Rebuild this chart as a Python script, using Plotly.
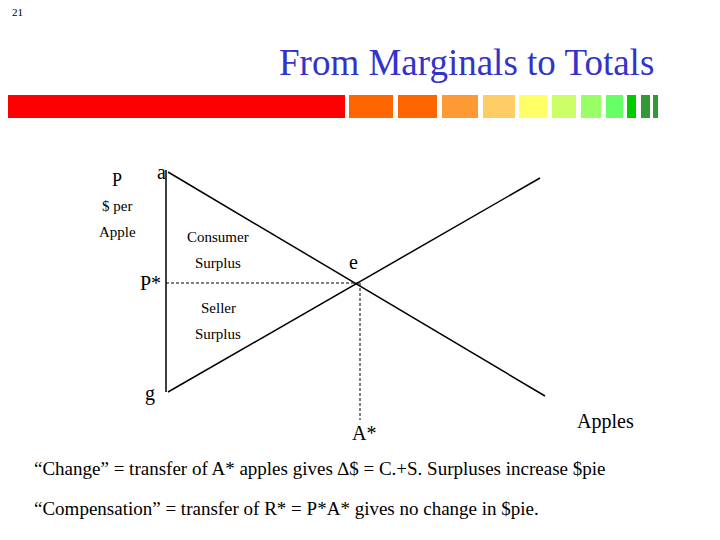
import plotly.graph_objects as go

# curve endpoints (slide pixel space)
demand_x = [168, 545]
demand_y = [172, 396]
supply_x = [168, 540]
supply_y = [392, 178]
eq_x = 360
eq_y = 283
axis_top, axis_bottom = 170, 392

# decorative bar under title: (x0, x1, colour)
blocks = [(0, 345, "#ff0000"), (349, 393, "#ff6600"), (398, 437, "#ff6600"),
          (442, 478, "#ff9933"), (483, 515, "#ffcc66"), (519, 547, "#ffff66"),
          (552, 576, "#ccff66"), (581, 601, "#99ff66"), (606, 623, "#66ff66"),
          (627, 636, "#00cc00"), (641, 650, "#339933"), (653, 658, "#339933")]

fig = go.Figure()
fig.add_trace(go.Scatter(x=demand_x, y=demand_y, mode="lines", line=dict(color="black", width=1.5)))
fig.add_trace(go.Scatter(x=supply_x, y=supply_y, mode="lines", line=dict(color="black", width=1.5)))
fig.add_trace(go.Scatter(x=[166, 166], y=[axis_top, axis_bottom], mode="lines", line=dict(color="black", width=1.5)))
fig.add_trace(go.Scatter(x=[166, eq_x], y=[eq_y, eq_y], mode="lines", line=dict(color="black", width=1, dash="3px,2px")))
fig.add_trace(go.Scatter(x=[eq_x, eq_x], y=[eq_y, 420], mode="lines", line=dict(color="black", width=1, dash="3px,2px")))

for x0, x1, c in blocks:
    fig.add_shape(type="rect", x0=max(x0, 8), x1=x1, y0=95, y1=118, fillcolor=c, line_width=0, layer="below")

def txt(x, y, s, size, color="black", anchor="center"):
    fig.add_annotation(x=x, y=y, text=s, showarrow=False, xanchor=anchor,
                       font=dict(family="Liberation Serif", size=size, color=color))

txt(10, 12, "21", 11, anchor="left")
txt(656, 62, "From Marginals to Totals", 37, "#3333cc", "right")
txt(117, 180, "P", 18)
txt(161, 172, "a", 20)
txt(117, 206, "$ per", 15)
txt(117, 232, "Apple", 15)
txt(218, 237, "Consumer", 15)
txt(218, 263, "Surplus", 15)
txt(353, 262, "e", 20)
txt(150, 283, "P*", 20)
txt(218, 308, "Seller", 15)
txt(218, 334, "Surplus", 15)
txt(150, 393, "g", 20)
txt(364, 433, "A*", 20)
txt(605, 421, "Apples", 20)
txt(32, 468, "“Change” = transfer of A* apples gives ∆$ = C.+S. Surpluses increase $pie", 19, anchor="left")
txt(32, 508, "“Compensation” = transfer of R* = P*A* gives no change in $pie.", 19, anchor="left")

# page body adds an 8px offset, so the plot spans 8..712 x 8..532
fig.update_layout(width=704, height=524, margin=dict(l=0, r=0, t=0, b=0),
                  plot_bgcolor="white", paper_bgcolor="white", showlegend=False,
                  xaxis=dict(range=[8, 712], visible=False),
                  yaxis=dict(range=[532, 8], visible=False))
fig.write_html("out.html")
